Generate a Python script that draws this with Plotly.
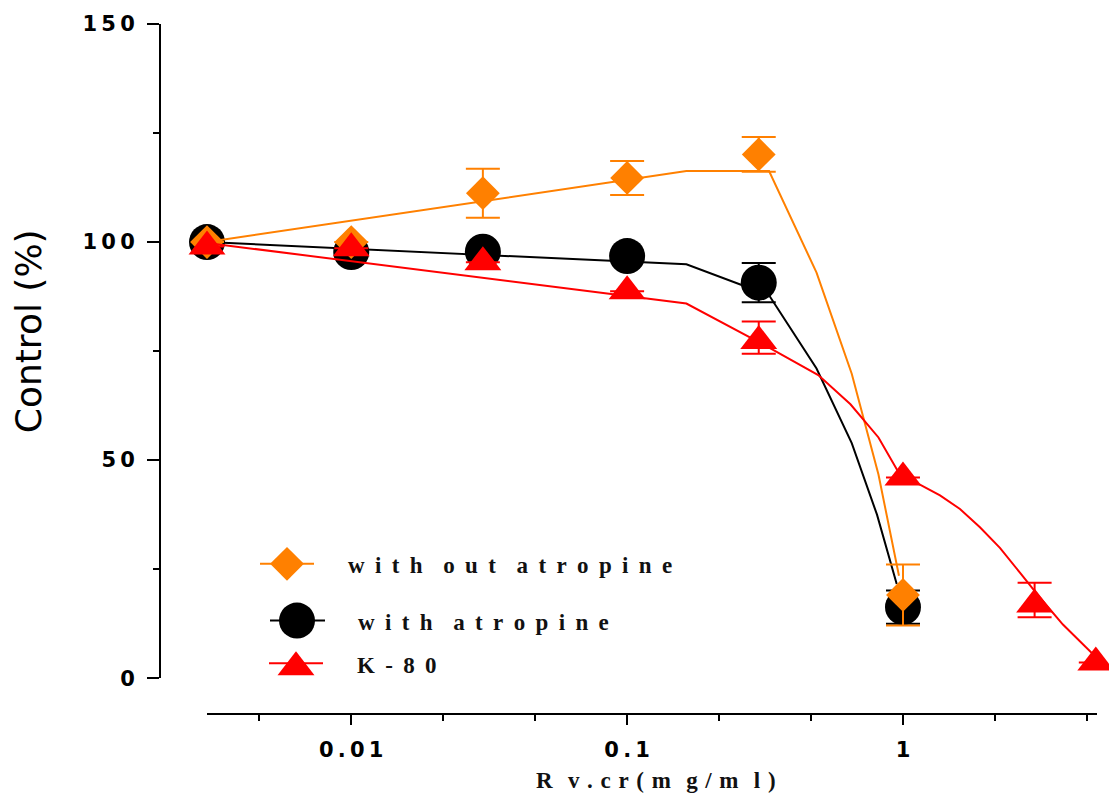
import plotly.graph_objects as go

# ---------------- data ----------------
dose = [0.003, 0.01, 0.03, 0.1, 0.3, 1]
without_atropine = [100, 100, 111.2, 114.7, 120.1, 19.1]
without_err = [None, None, 5.6, 3.9, 4.0, 7.0]
with_atropine = [100, 97.7, 97.8, 96.8, 90.7, 16.3]
with_err = [None, None, None, None, 4.5, 3.8]
k80_dose = [0.003, 0.01, 0.03, 0.1, 0.3, 1, 3, 5]
k80 = [99.0, 98.6, 95.4, 88.7, 77.3, 46.0, 16.9, 3.6]
k80_err_plus = [None, None, None, None, 4.5, None, 5.0, None]
k80_err_minus = [None, None, None, None, 2.9, None, 2.9, None]

# fitted curves (sampled)
fit_x_wo = [0.003, 0.164, 0.327, 0.486, 0.652, 0.815, 0.967]
fit_y_wo = [100, 116.3, 116.3, 93.0, 69.8, 46.7, 23.5]
fit_x_w = [0.003, 0.164, 0.327, 0.486, 0.652, 0.805, 0.949]
fit_y_w = [100, 94.9, 87.8, 71.0, 53.9, 37.5, 21.6]
fit_x_k = [0.003, 0.164, 0.327, 0.493, 0.645, 0.815, 0.99, 1.152, 1.362, 1.609,
           1.901, 2.246, 2.654, 3.136, 3.80, 4.759, 5.046]
fit_y_k = [99.8, 85.9, 75.8, 69.5, 62.8, 55.2, 45.9, 44.4, 41.9, 38.8,
           34.6, 29.9, 24.2, 18.5, 12.3, 6.2, 4.6]

series_names = ["with out atropine", "with atropine", "K-80"]
x_major_ticks = [0.01, 0.1, 1]
x_major_text = ["0.01", "0.1", "1"]
x_minor_ticks = [0.00464, 0.0215, 0.0464, 0.215, 0.464, 2.15, 4.64]
y_major_ticks = [0, 50, 100, 150]
y_minor_ticks = [25, 75, 125]
x_title = "R v.cr(m g/m l)"
y_title = "Control (%)"

ORANGE = "#FF8000"
BLACK = "#000000"
RED = "#FF0000"

NB = "\u00a0"
THIN = "\u2009"
HAIR = "\u200a"


def spaced(s, sep=NB, word_sep=None):
    if word_sep is None:
        word_sep = sep * 3
    return word_sep.join(sep.join(w) for w in s.split(" "))


# ---------------- layout geometry (pixels) ----------------
W, H = 1109, 794
L, R, T, B = 160, 12, 20, 80
PW, PH = W - L - R, H - T - B


def px_x(px):
    return (px - L) / PW


def px_y(py):
    return (H - B - py) / PH


fig = go.Figure()

# black (with atropine)
fig.add_trace(go.Scatter(x=fit_x_w, y=fit_y_w, mode="lines",
                         line=dict(color=BLACK, width=2), showlegend=False,
                         cliponaxis=False))
fig.add_trace(go.Scatter(x=dose, y=with_atropine, mode="markers",
                         marker=dict(symbol="circle", size=36, color=BLACK),
                         error_y=dict(type="data", array=with_err, color=BLACK,
                                      thickness=2, width=17),
                         showlegend=False, cliponaxis=False))
# orange (without atropine)
fig.add_trace(go.Scatter(x=fit_x_wo, y=fit_y_wo, mode="lines",
                         line=dict(color=ORANGE, width=2), showlegend=False,
                         cliponaxis=False))
fig.add_trace(go.Scatter(x=dose, y=without_atropine, mode="markers",
                         marker=dict(symbol="diamond", size=26, color=ORANGE),
                         error_y=dict(type="data", array=without_err, color=ORANGE,
                                      thickness=2, width=17),
                         showlegend=False, cliponaxis=False))
# red (K-80)
fig.add_trace(go.Scatter(x=fit_x_k, y=fit_y_k, mode="lines",
                         line=dict(color=RED, width=2), showlegend=False,
                         cliponaxis=False))
fig.add_trace(go.Scatter(x=k80_dose, y=k80, mode="markers",
                         marker=dict(symbol="triangle-up", size=32, color=RED),
                         error_y=dict(type="data", symmetric=False,
                                      array=k80_err_plus, arrayminus=k80_err_minus,
                                      color=RED, thickness=2, width=17),
                         showlegend=False, cliponaxis=False))

# ---------------- manual legend (separate axes in pixel units) ----------------
leg_items = [
    (series_names[0], ORANGE, "diamond", 26, 260, 314, 563, 287, 346),
    (series_names[1], BLACK, "circle", 36, 270, 325, 620, 297, 356),
    (series_names[2], RED, "triangle-up", 32, 269, 323, 663, 296, 355),
]
for name, col, sym, sz, x0, x1, yy, mx, tx in leg_items:
    fig.add_trace(go.Scatter(x=[x0, x1], y=[yy, yy], mode="lines",
                             line=dict(color=col, width=2), xaxis="x2", yaxis="y2",
                             showlegend=False, hoverinfo="skip", cliponaxis=False))
    my = yy + (4 if sym == "triangle-up" else 0)
    fig.add_trace(go.Scatter(x=[mx], y=[my], mode="markers",
                             marker=dict(symbol=sym, size=sz, color=col),
                             xaxis="x2", yaxis="y2", showlegend=False,
                             hoverinfo="skip", cliponaxis=False))
    fig.add_annotation(x=px_x(tx), y=px_y(yy + 2), xref="paper", yref="paper",
                       text="<b>" + spaced(name, NB + THIN, (NB + THIN) * 2) + "</b>",
                       showarrow=False, xanchor="left", yanchor="middle",
                       font=dict(family="Liberation Serif", size=23, color="#111"))

# ---------------- titles ----------------
fig.add_annotation(x=px_x(28), y=px_y(329), xref="paper", yref="paper",
                   text=y_title, textangle=-90, showarrow=False,
                   xanchor="center", yanchor="middle",
                   font=dict(family="DejaVu Sans", size=36, color="#000"))
fig.add_annotation(x=px_x(656), y=px_y(781), xref="paper", yref="paper",
                   text="<b>" + spaced(x_title, NB + HAIR, (NB + HAIR) * 2) + "</b>",
                   showarrow=False, xanchor="center", yanchor="middle",
                   font=dict(family="Liberation Serif", size=23, color="#111"))

tickfont = dict(family="DejaVu Sans", size=21, color="#000")

fig.update_layout(
    width=W, height=H,
    margin=dict(l=L, r=R, t=T, b=B, pad=0),
    paper_bgcolor="white", plot_bgcolor="rgba(0,0,0,0)",
    showlegend=False,
    xaxis=dict(
        type="log",
        domain=[px_x(207), 1],
        range=[-2.5229, 0.7033],
        anchor="free", position=0,
        showline=True, linecolor="#000", linewidth=2,
        showgrid=False, zeroline=False,
        tickmode="array", tickvals=x_major_ticks,
        ticktext=["<b>" + spaced(t, THIN) + "</b>" for t in x_major_text],
        ticks="outside", ticklen=10, tickwidth=2, tickcolor="#000",
        ticklabelstandoff=7,
        tickfont=tickfont,
        minor=dict(tickmode="array", tickvals=x_minor_ticks, ticks="outside",
                   ticklen=6, tickwidth=2, tickcolor="#000", showgrid=False),
    ),
    yaxis=dict(
        domain=[px_y(678), 1],
        range=[0, 150],
        anchor="free", position=0,
        showline=True, linecolor="#000", linewidth=2,
        showgrid=False, zeroline=False,
        tickmode="array", tickvals=y_major_ticks,
        ticktext=["<b>" + spaced(str(v), THIN) + "</b>" for v in y_major_ticks],
        ticks="outside", ticklen=12, tickwidth=2, tickcolor="#000",
        ticklabelstandoff=8,
        tickfont=tickfont,
        minor=dict(tickmode="array", tickvals=y_minor_ticks, ticks="outside",
                   ticklen=6, tickwidth=2, tickcolor="#000", showgrid=False),
    ),
    xaxis2=dict(domain=[0, 1], range=[L, W - R], visible=False, anchor="y2"),
    yaxis2=dict(domain=[0, 1], range=[H - B, T], visible=False, anchor="x2"),
)

fig.write_html("out.html")
